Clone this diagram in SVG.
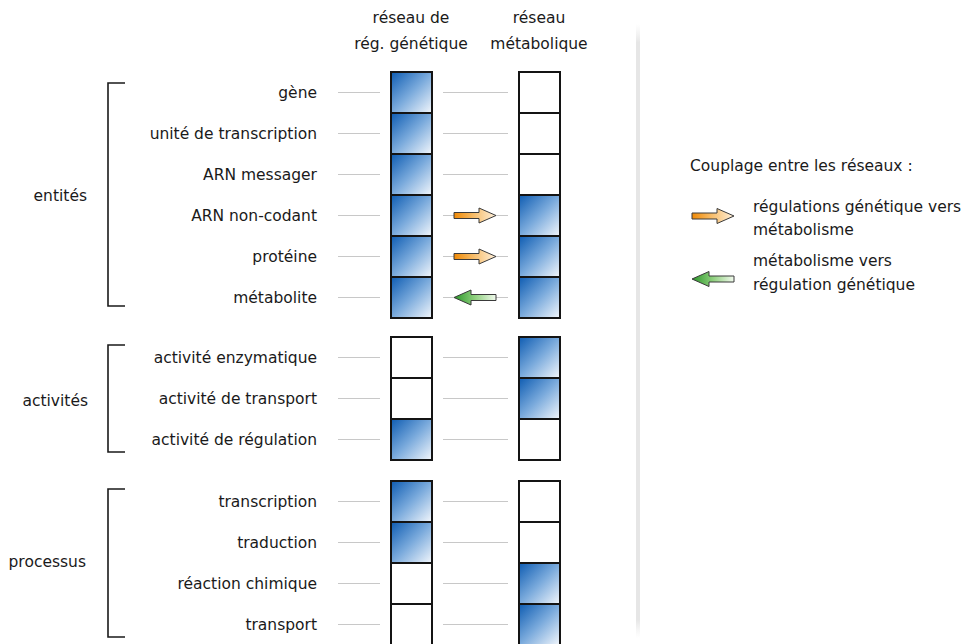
<svg xmlns="http://www.w3.org/2000/svg" width="965" height="644" viewBox="0 0 965 644">
  <style>
    text { font-family: "DejaVu Sans", "Liberation Sans", sans-serif; font-size: 15.5px; fill: #1a1a1a; }
    .lbl { text-anchor: end; }
    .mid { text-anchor: middle; }
    .box { stroke: #141414; stroke-width: 2; }
    .on { fill: url(#blue); }
    .off { fill: #ffffff; }
    .guide { stroke: #c8c8c8; stroke-width: 1; fill: none; }
    .brk { stroke: #1a1a1a; stroke-width: 1.6; fill: none; }
    .arr { stroke: #3a3a3a; stroke-width: 1; stroke-linejoin: miter; }
  </style>
  <defs>
    <linearGradient id="blue" x1="0" y1="0" x2="1" y2="1">
      <stop offset="0" stop-color="#0e5cb2"/>
      <stop offset="0.5" stop-color="#7aaadc"/>
      <stop offset="1" stop-color="#f3f7fc"/>
    </linearGradient>
    <linearGradient id="orange" x1="0" y1="0" x2="1" y2="0">
      <stop offset="0" stop-color="#f08a06"/>
      <stop offset="0.5" stop-color="#f8c070"/>
      <stop offset="1" stop-color="#fef0dc"/>
    </linearGradient>
    <linearGradient id="green" x1="0" y1="0" x2="1" y2="0">
      <stop offset="0" stop-color="#2a9628"/>
      <stop offset="0.5" stop-color="#8fd07e"/>
      <stop offset="1" stop-color="#f2faee"/>
    </linearGradient>
    <linearGradient id="sep" x1="0" y1="0" x2="0" y2="1">
      <stop offset="0" stop-color="#ececec" stop-opacity="0"/>
      <stop offset="0.03" stop-color="#e6e6e6"/>
      <stop offset="0.97" stop-color="#e6e6e6"/>
      <stop offset="1" stop-color="#ececec" stop-opacity="0"/>
    </linearGradient>
    <!-- right-pointing arrow, tip at (42,0) -->
    <path id="arrR" d="M0,-3 L25,-3 L25,-7.5 L42,0 L25,7.5 L25,3 L0,3 Z"/>
    <!-- left-pointing arrow, tip at (0,0) -->
    <path id="arrL" d="M42,-3 L17,-3 L17,-7.5 L0,0 L17,7.5 L17,3 L42,3 Z"/>
  </defs>

  <rect width="965" height="644" fill="#ffffff"/>

  <!-- separator between the table and the legend -->
  <rect x="636" y="24" width="4" height="614" fill="url(#sep)"/>

  <!-- column headers -->
  <g id="headers">
    <text class="mid" x="411" y="23">réseau de</text>
    <text class="mid" x="411" y="49">rég. génétique</text>
    <text class="mid" x="539" y="23">réseau</text>
    <text class="mid" x="539" y="49">métabolique</text>
  </g>

  <!-- guide lines from labels to boxes -->
  <g id="connectors">
    <path class="guide" d="M338,92.5H380 M443,92.5H508
      M338,133.5H380 M443,133.5H508
      M338,174.5H380 M443,174.5H508
      M338,215.5H380 M443,215.5H508
      M338,256.5H380 M443,256.5H508
      M338,297.5H380 M443,297.5H508
      M338,357.5H380 M443,357.5H508
      M338,398.5H380 M443,398.5H508
      M338,439.5H380 M443,439.5H508
      M338,501.5H380 M443,501.5H508
      M338,542.5H380 M443,542.5H508
      M338,583.5H380 M443,583.5H508
      M338,624.5H380 M443,624.5H508"/>
    <use href="#arrR" x="454" y="215.5" class="arr" fill="url(#orange)"/>
    <use href="#arrR" x="454" y="256.5" class="arr" fill="url(#orange)"/>
    <use href="#arrL" x="454" y="297.5" class="arr" fill="url(#green)"/>
  </g>

  <!-- group brackets -->
  <g id="group-entites">
    <path class="brk" d="M125,83H108V306H125"/>
    <text class="lbl" x="87" y="201">entités</text>
  </g>
  <g id="group-activites">
    <path class="brk" d="M125,345H108V452H125"/>
    <text class="lbl" x="88" y="406">activités</text>
  </g>
  <g id="group-processus">
    <path class="brk" d="M125,489H108V637H125"/>
    <text class="lbl" x="86" y="567">processus</text>
  </g>

  <!-- rows: label, gene-regulation box, metabolic box -->
  <g id="row-gene">
    <text class="lbl" x="317" y="98">gène</text>
    <rect class="box on" x="391" y="72" width="41" height="41"/>
    <rect class="box off" x="519" y="72" width="41" height="41"/>
  </g>
  <g id="row-unite">
    <text class="lbl" x="317" y="139">unité de transcription</text>
    <rect class="box on" x="391" y="113" width="41" height="41"/>
    <rect class="box off" x="519" y="113" width="41" height="41"/>
  </g>
  <g id="row-arnm">
    <text class="lbl" x="317" y="180">ARN messager</text>
    <rect class="box on" x="391" y="154" width="41" height="41"/>
    <rect class="box off" x="519" y="154" width="41" height="41"/>
  </g>
  <g id="row-arnnc">
    <text class="lbl" x="317" y="221">ARN non-codant</text>
    <rect class="box on" x="391" y="195" width="41" height="41"/>
    <rect class="box on" x="519" y="195" width="41" height="41"/>
  </g>
  <g id="row-proteine">
    <text class="lbl" x="317" y="262">protéine</text>
    <rect class="box on" x="391" y="236" width="41" height="41"/>
    <rect class="box on" x="519" y="236" width="41" height="41"/>
  </g>
  <g id="row-metabolite">
    <text class="lbl" x="317" y="303">métabolite</text>
    <rect class="box on" x="391" y="277" width="41" height="41"/>
    <rect class="box on" x="519" y="277" width="41" height="41"/>
  </g>

  <g id="row-enzyme">
    <text class="lbl" x="317" y="363">activité enzymatique</text>
    <rect class="box off" x="391" y="337" width="41" height="41"/>
    <rect class="box on" x="519" y="337" width="41" height="41"/>
  </g>
  <g id="row-transport-act">
    <text class="lbl" x="317" y="404">activité de transport</text>
    <rect class="box off" x="391" y="378" width="41" height="41"/>
    <rect class="box on" x="519" y="378" width="41" height="41"/>
  </g>
  <g id="row-regulation">
    <text class="lbl" x="317" y="445">activité de régulation</text>
    <rect class="box on" x="391" y="419" width="41" height="41"/>
    <rect class="box off" x="519" y="419" width="41" height="41"/>
  </g>

  <g id="row-transcription">
    <text class="lbl" x="317" y="507">transcription</text>
    <rect class="box on" x="391" y="481" width="41" height="41"/>
    <rect class="box off" x="519" y="481" width="41" height="41"/>
  </g>
  <g id="row-traduction">
    <text class="lbl" x="317" y="548">traduction</text>
    <rect class="box on" x="391" y="522" width="41" height="41"/>
    <rect class="box off" x="519" y="522" width="41" height="41"/>
  </g>
  <g id="row-reaction">
    <text class="lbl" x="317" y="589">réaction chimique</text>
    <rect class="box off" x="391" y="563" width="41" height="41"/>
    <rect class="box on" x="519" y="563" width="41" height="41"/>
  </g>
  <g id="row-transport">
    <text class="lbl" x="317" y="630">transport</text>
    <rect class="box off" x="391" y="604" width="41" height="41"/>
    <rect class="box on" x="519" y="604" width="41" height="41"/>
  </g>

  <!-- legend -->
  <g id="legend">
    <text x="690" y="171">Couplage entre les réseaux :</text>
    <use href="#arrR" x="692" y="216" class="arr" fill="url(#orange)"/>
    <text x="753" y="212">régulations génétique vers</text>
    <text x="753" y="235">métabolisme</text>
    <use href="#arrL" x="692" y="279" class="arr" fill="url(#green)"/>
    <text x="753" y="266">métabolisme vers</text>
    <text x="753" y="290">régulation génétique</text>
  </g>
</svg>
